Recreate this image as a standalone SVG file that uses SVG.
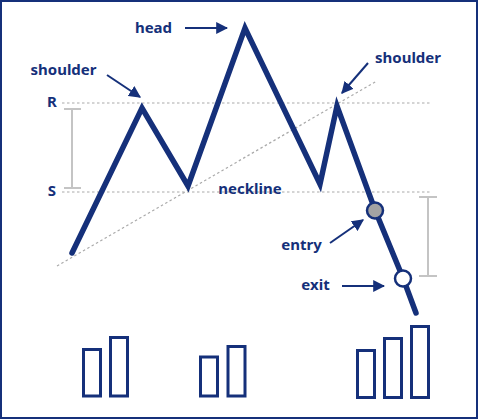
<svg xmlns="http://www.w3.org/2000/svg" width="479" height="420" viewBox="0 0 479 420">
<style>
.lbl{font-family:"Noto Sans","Liberation Sans",sans-serif;font-weight:bold;font-size:15px;fill:#15307a}
.dot{stroke:#aaaaaa;stroke-width:1.2;stroke-dasharray:2.5 2.5;fill:none}
.brk{stroke:#c4c4c4;stroke-width:2;fill:none}
.arr{stroke:#15307a;stroke-width:2;fill:none;marker-end:url(#ah)}
.bar{fill:#fff;stroke:#15307a;stroke-width:3}
</style>
<defs>
<marker id="ah" viewBox="0 0 10 10" refX="9" refY="5" markerWidth="6" markerHeight="6" markerUnits="strokeWidth" orient="auto">
<path d="M0,0 L10,5 L0,10 Z" fill="#15307a"/>
</marker>
</defs>
<rect x="1" y="1" width="476" height="417" fill="#fff" stroke="#15307a" stroke-width="2"/>
<g id="guides">
<line class="dot" x1="62" y1="103" x2="431" y2="103"/>
<line class="dot" x1="62" y1="192" x2="431" y2="192"/>
<line class="dot" x1="57" y1="266" x2="377" y2="81"/>
</g>
<g id="brackets">
<path class="brk" d="M72,109 V188 M64,109 H81 M64,188 H81"/>
<path class="brk" d="M428,197 V276 M419,197 H437 M419,276 H437"/>
</g>
<g id="price">
<polyline points="72,253 142,108 188,186 245,28 320,184 337,106 375,210 403,278 416,313" fill="none" stroke="#15307a" stroke-width="5.5" stroke-linecap="round" stroke-linejoin="miter" stroke-miterlimit="10"/>
</g>
<g id="entry-point"><circle cx="375" cy="210.5" r="8" fill="#a3a3a3" stroke="#15307a" stroke-width="2.5"/></g>
<g id="exit-point"><circle cx="403" cy="278.5" r="8" fill="#fff" stroke="#15307a" stroke-width="2.5"/></g>
<g id="connectors">
<line class="arr" x1="185" y1="28" x2="227" y2="28"/>
<line class="arr" x1="107" y1="75" x2="140" y2="97"/>
<line class="arr" x1="368" y1="63" x2="342" y2="93"/>
<line class="arr" x1="330" y1="243" x2="363" y2="220"/>
<line class="arr" x1="342" y1="286" x2="384" y2="286"/>
</g>
<g id="labels">
<text class="lbl" x="153.5" y="33" text-anchor="middle">head</text>
<text class="lbl" x="63.5" y="75" text-anchor="middle">shoulder</text>
<text class="lbl" x="408" y="63" text-anchor="middle">shoulder</text>
<text class="lbl" x="52" y="107" text-anchor="middle">R</text>
<text class="lbl" x="52" y="196" text-anchor="middle">S</text>
<text class="lbl" x="250" y="194" text-anchor="middle">neckline</text>
<text class="lbl" x="301.5" y="250" text-anchor="middle">entry</text>
<text class="lbl" x="315.5" y="290" text-anchor="middle">exit</text>
</g>
<g id="volume">
<rect class="bar" x="83.5" y="349.5" width="17" height="46.5"/>
<rect class="bar" x="110.5" y="337.5" width="17" height="58.5"/>
<rect class="bar" x="200.5" y="357" width="17" height="39"/>
<rect class="bar" x="228" y="346.5" width="17" height="49.5"/>
<rect class="bar" x="357.5" y="350.5" width="17" height="47"/>
<rect class="bar" x="384.5" y="338.5" width="17" height="59"/>
<rect class="bar" x="411.5" y="326.5" width="17" height="71"/>
</g>
</svg>
